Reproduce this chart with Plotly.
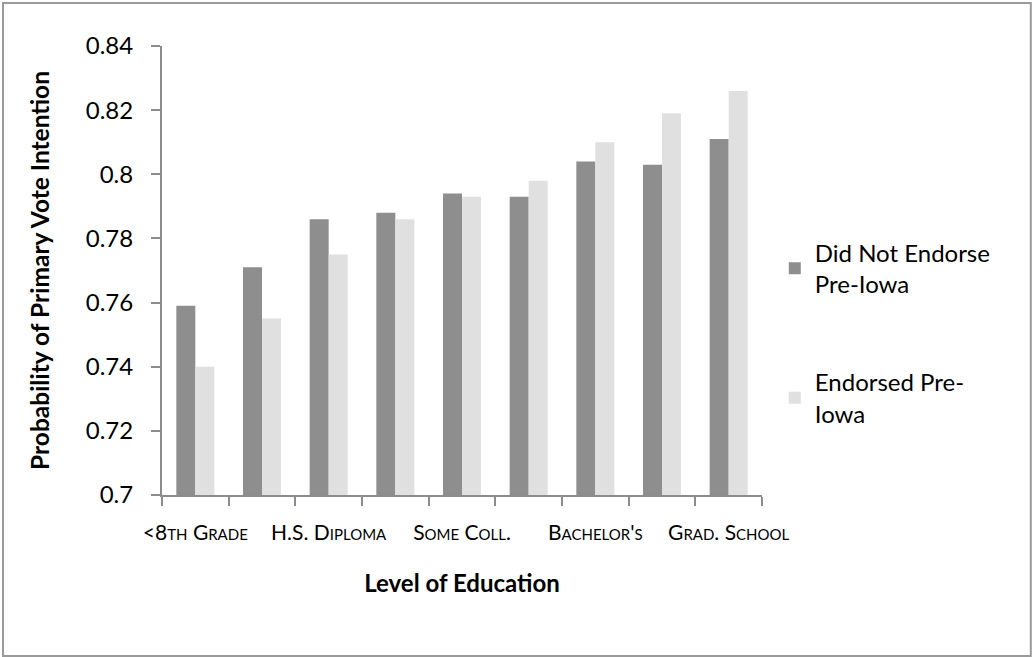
import plotly.graph_objects as go

categories = ["<8th Grade", "Some H.S.", "H.S. Diploma", "Vocational", "Some Coll.",
              "Assoc. Degree", "Bachelor's", "Some Grad.", "Grad. School"]
did_not_endorse = [0.759, 0.771, 0.786, 0.788, 0.794, 0.793, 0.804, 0.803, 0.811]
endorsed = [0.740, 0.755, 0.775, 0.786, 0.793, 0.798, 0.810, 0.819, 0.826]
series_names = ["Did Not Endorse<br>Pre-Iowa", "Endorsed Pre-<br>Iowa"]
y_tick_values = [0.70, 0.72, 0.74, 0.76, 0.78, 0.80, 0.82, 0.84]
y_tick_labels = ["0.7", "0.72", "0.74", "0.76", "0.78", "0.8", "0.82", "0.84"]

positions = list(range(len(categories)))
FONT = "Lato, 'Open Sans', sans-serif"
AXIS_COLOR = "#8c8c8c"

fig = go.Figure()
fig.add_trace(go.Bar(x=positions, y=did_not_endorse, name=series_names[0],
                     marker=dict(color="#8e8e8e", line=dict(width=0)),
                     legendgroup="a"))
fig.add_trace(go.Bar(x=positions, y=endorsed, name=series_names[1],
                     marker=dict(color="#e0e0e0", line=dict(width=0)),
                     legendgroup="b"))

fig.update_layout(
    width=1034, height=657,
    margin=dict(l=162, r=272, t=46, b=162),
    paper_bgcolor="white", plot_bgcolor="white",
    barmode="group", bargap=0.43, bargroupgap=0,
    font=dict(family=FONT, color="black"),
    showlegend=True,
    legend=dict(x=1.0213, y=0.589, xanchor="left", yanchor="top",
                font=dict(family=FONT, size=24, color="black"),
                tracegroupgap=64, bgcolor="rgba(0,0,0,0)"),
    xaxis=dict(
        range=[-0.5, len(categories) - 0.5],
        tickmode="array",
        tickvals=positions[::2],
        ticktext=categories[::2],
        ticks="",
        ticklabelstandoff=18,
        tickfont=dict(family=FONT, size=21, variant="small-caps", color="black"),
        showline=True, linecolor=AXIS_COLOR, linewidth=2,
        showgrid=False, zeroline=False,
        minor=dict(ticks="outside", tick0=-0.5, dtick=1, ticklen=9,
                   tickwidth=2, tickcolor=AXIS_COLOR, showgrid=False),
        title=dict(text="<b>Level of Education</b>",
                   font=dict(family=FONT, size=24, color="black"),
                   standoff=32),
    ),
    yaxis=dict(
        range=[0.7, 0.84],
        tickmode="array",
        tickvals=y_tick_values,
        ticktext=y_tick_labels,
        ticks="outside", ticklen=9, tickwidth=2, tickcolor=AXIS_COLOR,
        ticklabelstandoff=13,
        tickfont=dict(family=FONT, size=24, color="black"),
        showline=True, linecolor=AXIS_COLOR, linewidth=2,
        showgrid=False, zeroline=False,
        title=dict(text="<b>Probability of Primary Vote Intention</b>",
                   font=dict(family=FONT, size=24.5, color="black"),
                   standoff=29),
    ),
    shapes=[dict(type="rect", xref="paper", yref="paper",
                 x0=-0.265, x1=1.448, y0=-0.3586, y1=1.0958,
                 line=dict(color="#9a9a9a", width=2), fillcolor="rgba(0,0,0,0)",
                 layer="below")],
)

fig.write_html("out.html")
